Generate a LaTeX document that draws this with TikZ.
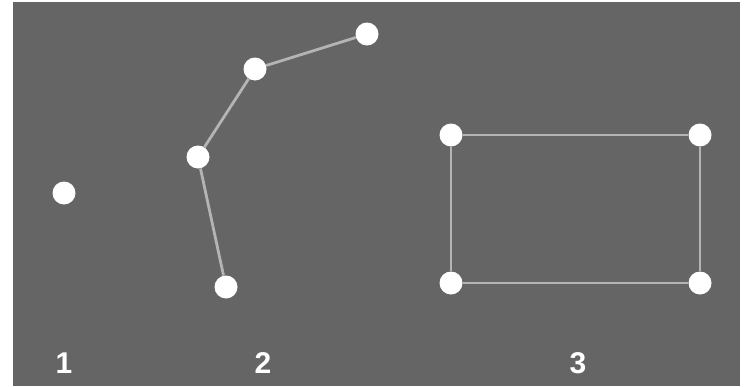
\documentclass[tikz,border=0pt]{standalone}
\usepackage{fontspec}
\setmainfont{Liberation Sans}
\definecolor{bg}{HTML}{656565}
\definecolor{edgec}{HTML}{B4B4B4}
\tikzset{
  dot/.style={circle,fill=white,draw=none,minimum size=23pt,inner sep=0pt},
  link/.style={draw=edgec,line width=2.8pt},
  lbl/.style={text=white,font=\bfseries\fontsize{30}{32}\selectfont,inner sep=0pt}
}
\begin{document}
\begin{tikzpicture}[x=1pt,y=-1pt]
\useasboundingbox[fill=white] (0,0) rectangle (750,386);
\fill[bg] (13,2) rectangle (740,386);
% group 1
\node[dot] (a1) at (64,193) {};
% group 2
\node[dot] (b1) at (226,287) {};
\node[dot] (b2) at (198,157) {};
\node[dot] (b3) at (255,69) {};
\node[dot] (b4) at (367,34) {};
% group 3
\node[dot] (c1) at (451,135) {};
\node[dot] (c2) at (700,135) {};
\node[dot] (c3) at (700,283) {};
\node[dot] (c4) at (451,283) {};
\draw[link] (b1) -- (b2) -- (b3) -- (b4);
\draw[link] (c1) -- (c2) -- (c3) -- (c4) -- (c1);
\node[lbl] (l1) at (64,363) {1};
\node[lbl] (l2) at (263,363) {2};
\node[lbl] (l3) at (578,363) {3};
\end{tikzpicture}
\end{document}
